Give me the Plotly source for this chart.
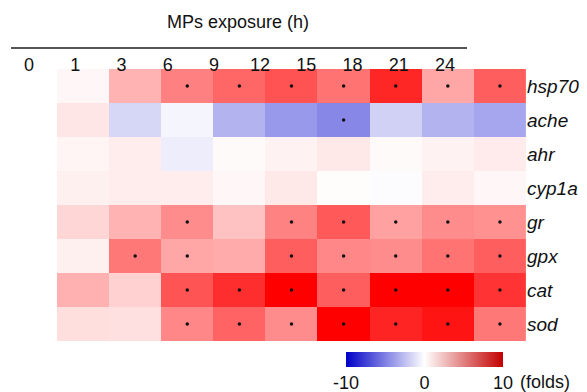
import plotly.graph_objects as go

times = ["0", "1", "3", "6", "9", "12", "15", "18", "21", "24"]
genes = ["hsp70", "ache", "ahr", "cyp1a", "gr", "gpx", "cat", "sod"]

hsp70 = [0, 0.3, 3.0, 5.0, 6.0, 6.8, 5.5, 8.5, 3.5, 6.3]
ache = [0, 1.0, -1.6, -0.4, -3.0, -4.0, -4.7, -1.8, -3.0, -3.5]
ahr = [0, 0.4, 0.7, -0.7, 0.2, 0.5, 0.9, 0.2, 0.5, 0.8]
cyp1a = [0, 0.6, 0.7, 0.7, 0.3, 0.9, 0.1, -0.1, 0.7, 0.3]
gr = [0, 1.6, 3.0, 4.5, 2.4, 4.9, 6.5, 3.7, 4.5, 4.3]
gpx = [0, 0.6, 5.3, 3.5, 3.3, 6.3, 4.7, 4.5, 5.5, 6.3]
cat = [0, 3.1, 1.8, 6.7, 8.2, 10.0, 6.3, 10.0, 10.0, 8.0]
sod = [0, 1.3, 1.2, 4.7, 6.1, 4.5, 10.0, 8.6, 9.2, 5.3]

# significance marks (gene, time)
sig_genes = (["hsp70"] * 7 + ["ache"] + ["gr"] * 6 + ["gpx"] * 7
             + ["cat"] * 7 + ["sod"] * 7)
sig_times = (["6", "9", "12", "15", "18", "21", "24"] + ["15"]
             + ["6", "12", "15", "18", "21", "24"]
             + ["3", "6", "12", "15", "18", "21", "24"]
             + ["6", "9", "12", "15", "18", "21", "24"]
             + ["6", "9", "12", "15", "18", "21", "24"])

cbar_ticks = [-10, 0, 10]

W, H = 587, 392
OFF = 8  # page body margin offset
def px(x): return (x - OFF) / W
def py(y): return 1 - (y - OFF) / H

z = [hsp70, ache, ahr, cyp1a, gr, gpx, cat, sod]

cell_scale = [[0, "rgb(0,0,205)"], [0.5, "rgb(255,255,255)"], [1, "rgb(255,0,0)"]]
bar_scale = [[0, "rgb(0,0,200)"], [0.5, "rgb(255,255,255)"], [1, "rgb(195,0,0)"]]

font = "Liberation Sans, Arial, sans-serif"
cell_w = (526 - 57) / 9.0

fig = go.Figure()
fig.add_trace(go.Heatmap(
    z=z, x=times, y=genes, zmin=-10, zmax=10, colorscale=cell_scale,
    showscale=False, hoverinfo="skip"))
fig.add_trace(go.Scatter(
    x=sig_times, y=sig_genes, mode="markers",
    marker=dict(size=3.5, color="#111111"), showlegend=False, hoverinfo="skip"))
fig.add_trace(go.Scatter(
    x=[None], y=[None], mode="markers", xaxis="x2", yaxis="y",
    marker=dict(color=[0], cmin=-10, cmax=10, colorscale=bar_scale, showscale=True,
                colorbar=dict(orientation="h", x=px(424.5), xanchor="center",
                              y=py(352), yanchor="top", len=157 / W, lenmode="fraction",
                              thickness=15, xpad=0, ypad=0, outlinewidth=0,
                              tickvals=cbar_ticks, ticktext=[str(v) for v in cbar_ticks],
                              ticks="", tickfont=dict(size=18, color="#111", family=font))),
    showlegend=False, hoverinfo="skip"))

fig.update_layout(
    width=W, height=H, margin=dict(l=0, r=0, t=0, b=0),
    paper_bgcolor="white", plot_bgcolor="rgba(0,0,0,0)",
    font=dict(family=font, color="#111"),
    xaxis=dict(type="category", domain=[0, px(526)], showticklabels=False, ticks="",
               range=[-0.5 + (OFF - (57 - cell_w)) / cell_w, 9.5],
               showgrid=False, zeroline=False, showline=False,
               categoryorder="array", categoryarray=times),
    yaxis=dict(type="category", domain=[py(341), py(69)], side="right",
               autorange="reversed", categoryorder="array", categoryarray=genes,
               tickfont=dict(size=19, style="italic", color="#111", family=font),
               ticks="", showgrid=False, zeroline=False, showline=False),
    xaxis2=dict(type="linear", domain=[px(11), px(467)], anchor="free", position=py(48),
                side="bottom", range=[-18 / 46.22, 9 + 22 / 46.22],
                tickvals=list(range(len(times))), ticktext=times,
                showline=True, linecolor="#555", linewidth=2,
                ticks="", showgrid=False, zeroline=False,
                tickfont=dict(size=18, color="#111", family=font)),
    annotations=[
        dict(text="MPs exposure (h)", x=px(238), y=py(22), xref="paper", yref="paper",
             xanchor="center", yanchor="middle", showarrow=False,
             font=dict(size=18, color="#111", family=font)),
        dict(text="(folds)", x=px(518), y=py(381.5), xref="paper", yref="paper",
             xanchor="left", yanchor="middle", showarrow=False,
             font=dict(size=18, color="#111", family=font)),
    ],
)

fig.write_html("out.html")
